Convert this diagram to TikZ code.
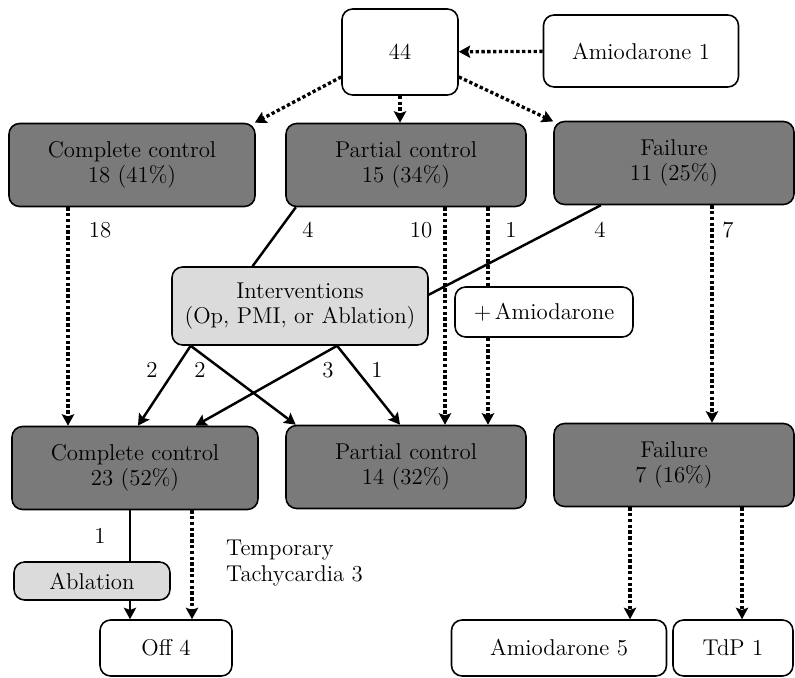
\documentclass[tikz,border=0pt]{standalone}
\usepackage{tikz}
\usetikzlibrary{arrows.meta,calc}

\tikzset{
  box/.style={draw, line width=0.9pt, rounded corners=6pt, fill=white, align=center,
    font=\fontsize{13}{14.5}\selectfont, inner sep=2pt},
  darkbox/.style={box, fill=black!52, minimum width=4.8cm, minimum height=1.66cm},
  lightbox/.style={box, fill=black!14},
  tip/.style={-{Stealth[length=6.5pt, width=7pt, inset=1.2pt]}},
  dotline/.style={line width=1.9pt, dash pattern=on 1.9pt off 1.4pt},
  dotarrow/.style={dotline, tip},
  solidline/.style={line width=1.4pt},
  solidarrow/.style={solidline, tip},
  num/.style={font=\fontsize{13}{14.5}\selectfont}
}

\begin{document}
\begin{tikzpicture}[x=0.02cm, y=-0.02cm]
\useasboundingbox (0,0) rectangle (795,678);

% first level
\node[box, minimum width=2.32cm, minimum height=1.72cm] (n44) at (400,52) {44};
\node[box, minimum width=3.9cm, minimum height=1.44cm] (amio1) at (641,51) {Amiodarone 1};
\node[darkbox, minimum width=4.92cm] (cc1) at (132,165) {Complete control\\18 (41\%)};
\node[darkbox] (pc1) at (406,165) {Partial control\\15 (34\%)};
\node[darkbox] (fl1) at (674,163) {Failure\\11 (25\%)};

% middle
\node[lightbox, minimum width=5.12cm, minimum height=1.56cm] (int) at (300,306) {Interventions\\(Op, PMI, or Ablation)};
\node[box, minimum width=3.56cm, minimum height=1cm] (plus) at (544,312) {+\,Amiodarone};

% second level
\node[darkbox, minimum width=4.92cm] (cc2) at (135,468) {Complete control\\23 (52\%)};
\node[darkbox] (pc2) at (406,467) {Partial control\\14 (32\%)};
\node[darkbox] (fl2) at (674,465) {Failure\\7 (16\%)};

% outcomes
\node[lightbox, minimum width=3.12cm, minimum height=0.76cm] (abl) at (92,581) {Ablation};
\node[box, minimum width=2.64cm, minimum height=1.12cm] (off) at (166,648) {Off 4};
\node[box, minimum width=4.3cm, minimum height=1.12cm] (amio5) at (559,648) {Amiodarone 5};
\node[box, minimum width=2.4cm, minimum height=1.12cm] (tdp) at (733,648) {TdP 1};

% top arrows
\draw[dotarrow] (amio1) -- (n44);
\draw[dotarrow] (n44.203) -- (cc1.19);
\draw[dotarrow] (n44.south) -- (n44.south |- pc1.north);
\draw[dotarrow] (n44.337) -- (fl1.161);

% down the columns
\coordinate (a18) at ($(cc1.south)+(-64,0)$);
\coordinate (a10) at ($(pc1.south)+(39,0)$);
\coordinate (a1) at ($(pc1.south)+(82,0)$);
\coordinate (a7) at ($(fl1.south)+(38,0)$);
\draw[dotarrow] (a18) -- (a18 |- cc2.north);
\draw[dotarrow] (a10) -- (a10 |- pc2.north);
\draw[dotline] (a1) -- (a1 |- plus.north);
\draw[dotarrow] (a1 |- plus.south) -- (a1 |- pc2.north);
\draw[dotarrow] (a7) -- (a7 |- fl2.north);

% through interventions
\draw[solidline] (pc1.201) -- (int.140);
\draw[solidline] (fl1.210) -- (int.5);
\draw[solidarrow] (int.200) -- (cc2.86);
\draw[solidarrow] (int.200) -- (pc2.159);
\draw[solidarrow] (int.313) -- (cc2.35);
\draw[solidarrow] (int.313) -- (pc2.98);

% bottom
\coordinate (b1) at ($(cc2.south)+(-5,0)$);
\coordinate (b2) at ($(cc2.south)+(57,0)$);
\coordinate (b3) at ($(fl2.south)+(-44,0)$);
\coordinate (b4) at ($(fl2.south)+(68,0)$);
\draw[solidline] (b1) -- (b1 |- abl.north);
\draw[solidarrow] (b1 |- abl.south) -- (b1 |- off.north);
\draw[dotarrow] (b2) -- (b2 |- off.north);
\draw[dotarrow] (b3) -- (b3 |- amio5.north);
\draw[dotarrow] (b4) -- (b4 |- tdp.north);

% counts
\node[num] (l18) at (100,230) {18};
\node[num] (l4a) at (308,230) {4};
\node[num] (l10) at (421,230) {10};
\node[num] (l1a) at (511,230) {1};
\node[num] (l4b) at (600,230) {4};
\node[num] (l7) at (728,230) {7};
\node[num] (l2a) at (152,370) {2};
\node[num] (l2b) at (200,370) {2};
\node[num] (l3) at (328,370) {3};
\node[num] (l1b) at (377,370) {1};
\node[num] (l1c) at (100,536) {1};
\node[num, align=left, anchor=west] (tmp) at (220,563) {Temporary\\Tachycardia 3};
\end{tikzpicture}
\end{document}
